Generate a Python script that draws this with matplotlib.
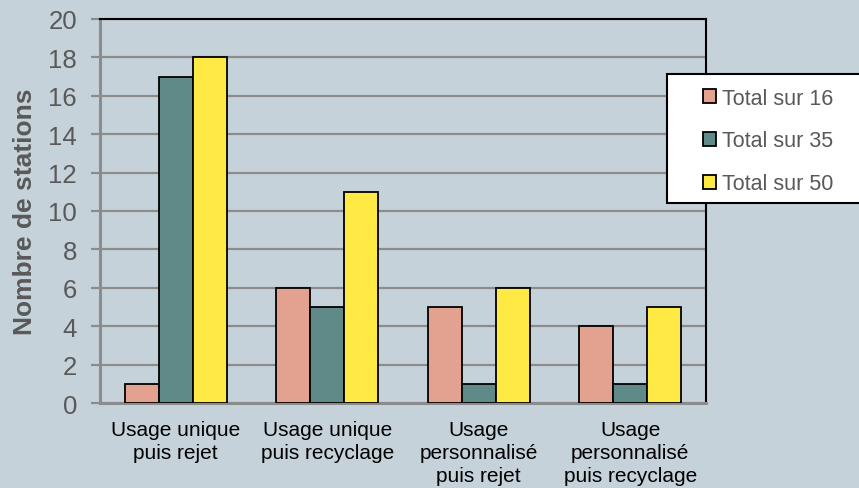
import matplotlib
matplotlib.use("Agg")
import matplotlib.pyplot as plt
from matplotlib.patches import Rectangle
import numpy as np

categories = ["Usage unique\npuis rejet", "Usage unique\npuis recyclage",
              "Usage\npersonnalisé\npuis rejet", "Usage\npersonnalisé\npuis recyclage"]
series_names = ["Total sur 16", "Total sur 35", "Total sur 50"]
total_16 = [1, 6, 5, 4]
total_35 = [17, 5, 1, 1]
total_50 = [18, 11, 6, 5]
y_ticks = [0, 2, 4, 6, 8, 10, 12, 14, 16, 18, 20]

colors = ["#E3A190", "#5F8A88", "#FFE945"]
bg = "#C6D2DA"
W, H = 859, 489

plt.rcParams["font.family"] = ["Liberation Sans", "DejaVu Sans"]

fig = plt.figure(figsize=(W / 100, H / 100), dpi=100, facecolor=bg)
ax = fig.add_axes([100 / W, 1 - 404 / H, 606 / W, 384 / H])
ax.set_facecolor(bg)

x = np.arange(len(categories))
w = 0.224
for i, (vals, name) in enumerate(zip([total_16, total_35, total_50], series_names)):
    ax.bar(x + (i - 1) * w, vals, width=w, color=colors[i], edgecolor="black",
           linewidth=1.3, label=name, zorder=3)

ax.set_xlim(-0.5, len(categories) - 0.5)
ax.set_ylim(0, 20)
ax.set_yticks(y_ticks)
ax.yaxis.grid(True, color="#8C8C8C", linewidth=1.6, zorder=0)
ax.set_axisbelow(True)

ax.set_xticks(x)
ax.set_xticklabels(categories, fontsize=15, color="black", linespacing=1.28)
ax.tick_params(axis="x", length=0, pad=12)
ax.tick_params(axis="y", length=6.5, width=1.6, color="#8C8C8C", labelsize=18.5,
               labelcolor="#595959", pad=10)

for side in ["top", "right"]:
    ax.spines[side].set_color("black")
    ax.spines[side].set_linewidth(1.5)
for side in ["left", "bottom"]:
    ax.spines[side].set_color("#8C8C8C")
    ax.spines[side].set_linewidth(2.2)

ax.set_ylabel("Nombre de stations", fontsize=19, fontweight="bold", color="#595959",
              labelpad=8)

# legend box, running off the right edge of the figure
box = Rectangle((667 / W, 1 - 204 / H), 200 / W, 129 / H, transform=fig.transFigure,
                facecolor="white", edgecolor="black", linewidth=1.5, zorder=4)
fig.patches.append(box)

leg = fig.legend(loc="center left", bbox_to_anchor=(703 / W, 1 - 142 / H),
                 frameon=False, fontsize=15.5, handlelength=0.6, handleheight=0.6,
                 handletextpad=0.3, labelspacing=1.02, borderpad=0, borderaxespad=0,
                 labelcolor="#595959")
leg.set_zorder(5)

fig.savefig("out.png", dpi=100, facecolor=bg)
